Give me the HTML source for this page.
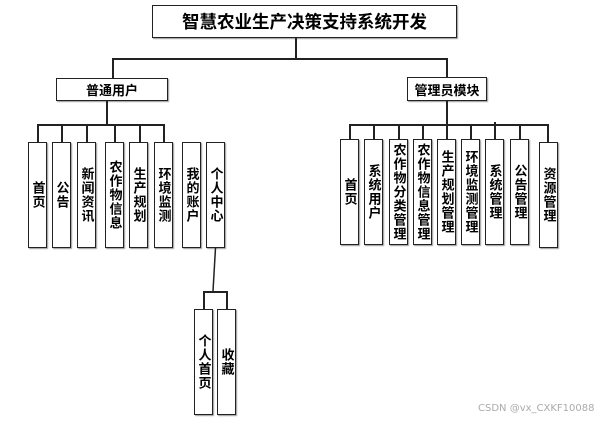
<!DOCTYPE html>
<html><head><meta charset="utf-8"><style>
html,body{margin:0;padding:0;background:#fff;}
body{width:606px;height:421px;position:relative;overflow:hidden;font-family:"Liberation Sans","Noto Sans CJK SC",sans-serif;}
.b{position:absolute;box-sizing:border-box;border:1.5px solid #222;background:#fff;box-shadow:1px 1px 1px #999;display:flex;align-items:center;justify-content:center;font-weight:bold;color:#000;}
.v{writing-mode:vertical-rl;font-size:13px;line-height:16px;letter-spacing:1px;}
.h{position:absolute;height:1.5px;background:#222;}
.l{position:absolute;width:1.5px;background:#222;}
.wm{position:absolute;left:478px;y:0;top:403px;font-size:10px;color:#aaa;font-family:"DejaVu Sans",sans-serif;}
</style></head><body>
<div class="b" style="left:152px;top:5px;width:305px;height:33px;font-size:17.5px;">智慧农业生产决策支持系统开发</div>
<div class="l" style="left:295px;top:38px;height:20px;"></div>
<div class="h" style="left:112px;top:58px;width:335px;"></div>
<div class="l" style="left:112px;top:58px;height:20px;"></div>
<div class="l" style="left:446px;top:58px;height:19px;"></div>

<div class="b" style="left:56px;top:78px;width:112px;height:23px;font-size:13px;">普通用户</div>
<div class="b" style="left:407px;top:77px;width:80px;height:24px;font-size:13px;">管理员模块</div>

<div class="l" style="left:106px;top:101px;height:23px;"></div>
<div class="h" style="left:37px;top:124px;width:127px;"></div>
<div class="l" style="left:37px;top:124px;height:18px;"></div>
<div class="l" style="left:61px;top:124px;height:18px;"></div>
<div class="l" style="left:86px;top:124px;height:18px;"></div>
<div class="l" style="left:114px;top:124px;height:18px;"></div>
<div class="l" style="left:139px;top:124px;height:18px;"></div>
<div class="l" style="left:163px;top:124px;height:18px;"></div>

<div class="b v" style="left:28px;top:142px;width:19px;height:106px;">首页</div>
<div class="b v" style="left:52px;top:142px;width:19px;height:106px;">公告</div>
<div class="b v" style="left:77px;top:142px;width:19px;height:106px;">新闻资讯</div>
<div class="b v" style="left:105px;top:142px;width:19px;height:106px;">农作物信息</div>
<div class="b v" style="left:129px;top:142px;width:19px;height:106px;">生产规划</div>
<div class="b v" style="left:154px;top:142px;width:19px;height:106px;">环境监测</div>
<div class="b v" style="left:182px;top:142px;width:19px;height:106px;">我的账户</div>
<div class="b v" style="left:206px;top:142px;width:19px;height:106px;">个人中心</div>

<svg style="position:absolute;left:0;top:0" width="606" height="421"><line x1="215.5" y1="248" x2="213" y2="291" stroke="#222" stroke-width="1.5"/></svg>
<div class="h" style="left:203px;top:291px;width:24px;"></div>
<div class="l" style="left:203px;top:291px;height:18px;"></div>
<div class="l" style="left:226px;top:291px;height:18px;"></div>
<div class="b v" style="left:194px;top:309px;width:19px;height:106px;">个人首页</div>
<div class="b v" style="left:217px;top:309px;width:19px;height:106px;">收藏</div>

<div class="l" style="left:446px;top:101px;height:23px;"></div>
<div class="h" style="left:349px;top:124px;width:199px;"></div>
<div class="l" style="left:349px;top:124px;height:15px;"></div>
<div class="l" style="left:373px;top:124px;height:15px;"></div>
<div class="l" style="left:398px;top:124px;height:15px;"></div>
<div class="l" style="left:422px;top:124px;height:15px;"></div>
<div class="l" style="left:446px;top:124px;height:15px;"></div>
<div class="l" style="left:470px;top:124px;height:15px;"></div>
<div class="l" style="left:494px;top:122px;height:17px;"></div>
<div class="l" style="left:519px;top:124px;height:15px;"></div>
<div class="l" style="left:547px;top:124px;height:18px;"></div>

<div class="b v" style="left:340px;top:139px;width:19px;height:106px;">首页</div>
<div class="b v" style="left:364px;top:139px;width:19px;height:106px;">系统用户</div>
<div class="b v" style="left:389px;top:139px;width:19px;height:106px;">农作物分类管理</div>
<div class="b v" style="left:413px;top:139px;width:19px;height:106px;">农作物信息管理</div>
<div class="b v" style="left:437px;top:139px;width:19px;height:106px;">生产规划管理</div>
<div class="b v" style="left:461px;top:139px;width:19px;height:106px;">环境监测管理</div>
<div class="b v" style="left:485px;top:139px;width:19px;height:106px;">系统管理</div>
<div class="b v" style="left:510px;top:139px;width:19px;height:106px;">公告管理</div>
<div class="b v" style="left:539px;top:142px;width:19px;height:106px;">资源管理</div>

<div class="wm">CSDN @vx_CXKF10088</div>
</body></html>
